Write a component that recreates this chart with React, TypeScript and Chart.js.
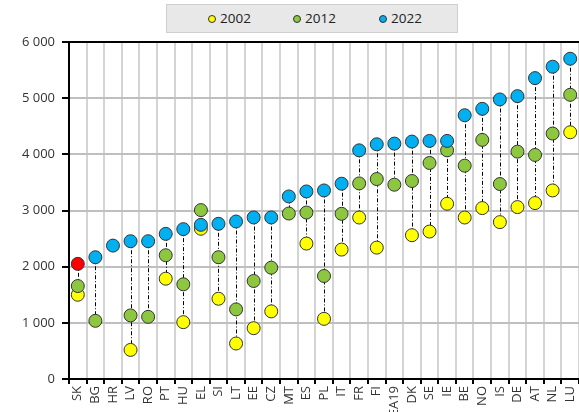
import React, { useEffect, useRef } from "react";
import { Chart, registerables } from "chart.js";

Chart.register(...registerables);

const categories = ["SK", "BG", "HR", "LV", "RO", "PT", "HU", "EL", "SI", "LT", "EE", "CZ", "MT", "ES", "PL", "IT", "FR", "FI", "EA19", "DK", "SE", "IE", "BE", "NO", "IS", "DE", "AT", "NL", "LU"];

const values2002 = [1500, null, null, 518, null, 1786, 1012, 2675, 1429, 632, 905, 1204, null, 2411, 1071, 2304, 2875, 2339, null, 2560, 2625, 3120, 2875, 3043, 2793, 3061, 3132, 3357, 4393];
const values2012 = [1655, 1036, null, 1132, 1107, 2203, 1686, 3007, 2168, 1239, 1745, 1982, 2946, 2964, 1834, 2941, 3482, 3560, 3459, 3525, 3846, 4071, 3798, 4257, 3471, 4048, 3989, 4370, 5060];
const values2022 = [2050, 2168, 2375, 2453, 2453, 2584, 2668, 2745, 2763, 2804, 2876, 2876, 3250, 3339, 3357, 3477, 4071, 4179, 4191, 4227, 4239, 4239, 4696, 4810, 4977, 5036, 5357, 5560, 5702];

const seriesLabels = ["2002", "2012", "2022"];
const seriesColors = ["#ffff00", "#8dc63f", "#00b0f0"];
const highlightCategory = "SK";
const highlightColor = "#ff0000";

const yMin = 0;
const yMax = 6000;
const yStep = 1000;

const FONT = "'Open Sans', 'Noto Sans', sans-serif";

const connectorPlugin = {
  id: "connectors",
  beforeDatasetsDraw(chart: any) {
    const { ctx, scales } = chart;
    const x = scales.x;
    const y = scales.y;
    ctx.save();
    ctx.strokeStyle = "#000";
    ctx.lineWidth = 1;
    ctx.setLineDash([4, 2, 1, 2]);
    categories.forEach((_, i) => {
      const vals = [values2002[i], values2012[i], values2022[i]].filter((v) => v != null) as number[];
      if (vals.length < 2) return;
      const px = Math.round(x.getPixelForValue(i)) + 0.5;
      ctx.beginPath();
      ctx.moveTo(px, y.getPixelForValue(Math.max(...vals)));
      ctx.lineTo(px, y.getPixelForValue(Math.min(...vals)));
      ctx.stroke();
    });
    ctx.restore();
  },
};

export default function App() {
  const canvasRef = useRef<HTMLCanvasElement | null>(null);

  useEffect(() => {
    document.body.style.margin = "0";
    const canvas = canvasRef.current;
    if (!canvas) return;
    const seriesValues = [values2002, values2012, values2022];
    const chart = new Chart(canvas, {
      type: "line",
      data: {
        labels: categories,
        datasets: seriesValues.map((vals, si) => ({
          label: seriesLabels[si],
          data: vals,
          showLine: false,
          clip: false,
          order: 2 - si,
          pointRadius: 6.5,
          pointHoverRadius: 6.5,
          pointBorderWidth: 1,
          pointBorderColor: "#333",
          pointBackgroundColor:
            si === 2
              ? categories.map((c) => (c === highlightCategory ? highlightColor : seriesColors[si]))
              : seriesColors[si],
          backgroundColor: seriesColors[si],
          borderColor: "#333",
        })),
      },
      options: {
        responsive: false,
        animation: false,
        devicePixelRatio: 1,
        layout: { autoPadding: false, padding: { top: 42, right: 0, bottom: 0, left: 0 } },
        plugins: {
          legend: { display: false },
          tooltip: { enabled: false },
        },
        scales: {
          x: {
            type: "category",
            offset: true,
            grid: {
              offset: true,
              color: "#d4d4d4",
              lineWidth: 2,
              tickColor: "#000",
              tickLength: 5,
            },
            border: { color: "#000", width: 2 },
            ticks: {
              autoSkip: false,
              maxRotation: 90,
              minRotation: 90,
              padding: 2,
              color: "#333",
              font: { family: FONT, size: 13 },
            },
            afterFit(scale: any) {
              scale.height = 33;
              scale.paddingRight = 0;
              scale.paddingLeft = 0;
            },
          },
          y: {
            min: yMin,
            max: yMax,
            ticks: {
              stepSize: yStep,
              padding: 7,
              color: "#333",
              font: { family: FONT, size: 13 },
              callback: (v: any) => {
                const n = Number(v);
                if (n >= 1000) {
                  const s = String(n);
                  return s.slice(0, s.length - 3) + " " + s.slice(-3);
                }
                return String(n);
              },
            },
            grid: {
              color: (c: any) => (c.tick && c.tick.value === yMax ? "#000" : "#bfbfbf"),
              lineWidth: 2,
              tickColor: "#000",
              tickLength: 7,
            },
            border: { color: "#000", width: 2 },
            afterFit(scale: any) {
              scale.width = 69;
            },
          },
        },
      },
      plugins: [connectorPlugin],
    } as any);
    return () => chart.destroy();
  }, []);

  const legendDots = [212, 297, 383];

  return (
    <div style={{ position: "relative", width: 579, height: 412, overflow: "hidden" }}>
      <canvas ref={canvasRef} width={579} height={412} style={{ display: "block", width: 579, height: 412 }} />
      <div
        style={{
          position: "absolute",
          left: 166,
          top: 4,
          width: 292,
          height: 29,
          boxSizing: "border-box",
          background: "#e8e8e8",
          border: "1px solid #cfcfcf",
        }}
      />
      {seriesLabels.map((lbl, i) => (
        <React.Fragment key={lbl}>
          <div
            style={{
              position: "absolute",
              left: legendDots[i] - 4,
              top: 14.5,
              width: 8,
              height: 8,
              boxSizing: "border-box",
              borderRadius: "50%",
              border: "1px solid #333",
              background: seriesColors[i],
            }}
          />
          <div
            style={{
              position: "absolute",
              left: legendDots[i] + 8,
              top: 11,
              lineHeight: "14px",
              fontFamily: FONT,
              fontSize: 13.5,
              color: "#222",
              whiteSpace: "nowrap",
            }}
          >
            {lbl}
          </div>
        </React.Fragment>
      ))}
    </div>
  );
}
